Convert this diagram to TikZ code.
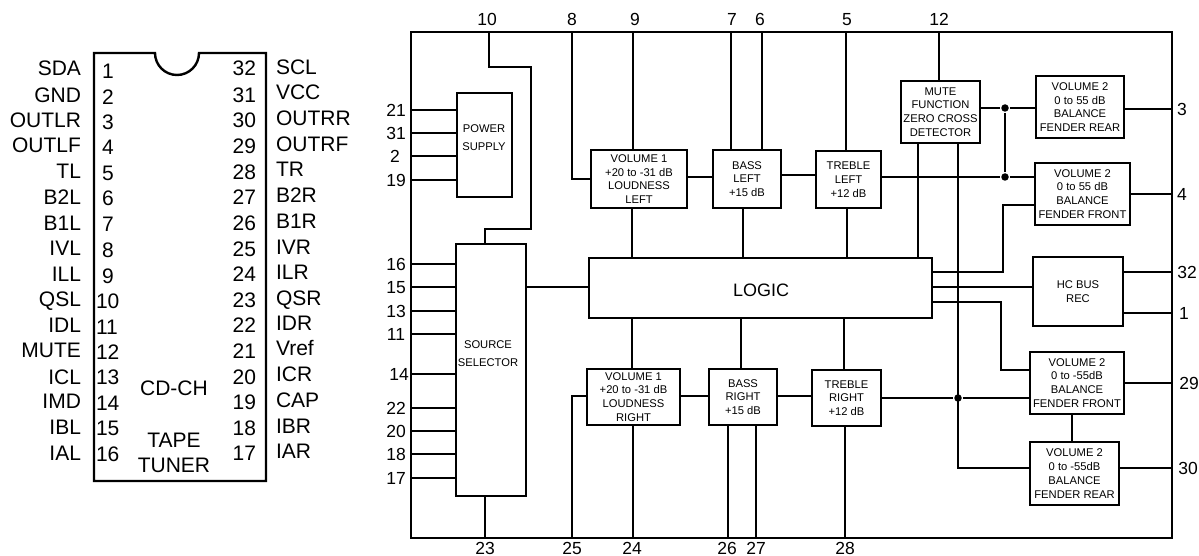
\documentclass[tikz,border=0pt]{standalone}
\usepackage{fontspec}
\setmainfont{Liberation Sans}

\begin{document}
\begin{tikzpicture}[x=1pt, y=-1pt, line width=2.1pt,
  lname/.style={anchor=east,inner sep=0pt,text height=15pt,text depth=0pt,font=\fontsize{21}{25}\selectfont},
  rname/.style={anchor=west,inner sep=0pt,text height=15pt,text depth=0pt,font=\fontsize{21}{25}\selectfont},
  lnum/.style={anchor=west,inner sep=0pt,text height=15pt,text depth=0pt,font=\fontsize{21}{25}\selectfont},
  rnum/.style={anchor=east,inner sep=0pt,text height=15pt,text depth=0pt,font=\fontsize{21}{25}\selectfont},
  chiptext/.style={inner sep=0pt,text height=15pt,text depth=0pt,font=\fontsize{21}{25}\selectfont},
  pinnum/.style={inner sep=0pt,text height=12.5pt,text depth=0pt,font=\fontsize{17.5}{20}\selectfont},
  blockbox/.style={draw,rectangle,inner sep=0pt,outer sep=0pt,align=center,font=\fontsize{11.2}{13.8}\selectfont},
  looseblock/.style={inner sep=0pt,align=center,font=\fontsize{11.2}{18}\selectfont},
  junction/.style={circle,fill,inner sep=0pt,minimum size=7.5pt}]
  \useasboundingbox (0,0) rectangle (1199,556);

  % chip
  \draw[line width=2.4pt] (94,53) -- (155,53) arc[start angle=180, end angle=0, radius=22] -- (266,53) -- (266,481) -- (94,481) -- cycle;
  \node (cdch) [chiptext] at (174,388) {CD-CH};
  \node (tape) [chiptext] at (174,440) {TAPE};
  \node (tuner) [chiptext] at (174,465) {TUNER};

  \node (sda) [lname] at (82,68) {SDA};
  \node (gnd) [lname] at (82,95) {GND};
  \node (outlr) [lname] at (82,120) {OUTLR};
  \node (outlf) [lname] at (82,145) {OUTLF};
  \node (tl) [lname] at (82,171) {TL};
  \node (btwol) [lname] at (82,197) {B2L};
  \node (bonel) [lname] at (82,223) {B1L};
  \node (ivl) [lname] at (82,248) {IVL};
  \node (ill) [lname] at (82,274) {ILL};
  \node (qsl) [lname] at (82,299) {QSL};
  \node (idl) [lname] at (82,325) {IDL};
  \node (mute) [lname] at (82,350) {MUTE};
  \node (icl) [lname] at (82,377) {ICL};
  \node (imd) [lname] at (82,401) {IMD};
  \node (ibl) [lname] at (82,427) {IBL};
  \node (ial) [lname] at (82,453) {IAL};

  \node (na) [lnum] at (101,71) {1};
  \node (nb) [lnum] at (101,97) {2};
  \node (nc) [lnum] at (101,122) {3};
  \node (nd) [lnum] at (101,147) {4};
  \node (ne) [lnum] at (101,173) {5};
  \node (nf) [lnum] at (101,198) {6};
  \node (ng) [lnum] at (101,224) {7};
  \node (nh) [lnum] at (101,250) {8};
  \node (ni) [lnum] at (101,276) {9};
  \node (nj) [lnum] at (95,301) {10};
  \node (nk) [lnum] at (95,327) {11};
  \node (nl) [lnum] at (95,352) {12};
  \node (nm) [lnum] at (95,377) {13};
  \node (nn) [lnum] at (95,403) {14};
  \node (no) [lnum] at (95,428) {15};
  \node (np) [lnum] at (95,454) {16};

  \node (nq) [rnum] at (257,68) {32};
  \node (nr) [rnum] at (257,95) {31};
  \node (ns) [rnum] at (257,120) {30};
  \node (nt) [rnum] at (257,146) {29};
  \node (nu) [rnum] at (257,172) {28};
  \node (nv) [rnum] at (257,197) {27};
  \node (nw) [rnum] at (257,223) {26};
  \node (nx) [rnum] at (257,249) {25};
  \node (ny) [rnum] at (257,274) {24};
  \node (nz) [rnum] at (257,300) {23};
  \node (naa) [rnum] at (257,325) {22};
  \node (nab) [rnum] at (257,351) {21};
  \node (nac) [rnum] at (257,377) {20};
  \node (nad) [rnum] at (257,402) {19};
  \node (nae) [rnum] at (257,428) {18};
  \node (naf) [rnum] at (257,453) {17};

  \node (scl) [rname] at (275,67) {SCL};
  \node (vcc) [rname] at (275,92) {VCC};
  \node (outrr) [rname] at (275,118) {OUTRR};
  \node (outrf) [rname] at (275,144) {OUTRF};
  \node (tr) [rname] at (275,169) {TR};
  \node (btwor) [rname] at (275,195) {B2R};
  \node (boner) [rname] at (275,221) {B1R};
  \node (ivr) [rname] at (275,247) {IVR};
  \node (ilr) [rname] at (275,272) {ILR};
  \node (qsr) [rname] at (275,298) {QSR};
  \node (idr) [rname] at (275,323) {IDR};
  \node (vref) [rname] at (275,348) {Vref};
  \node (icr) [rname] at (275,374) {ICR};
  \node (cap) [rname] at (275,400) {CAP};
  \node (ibr) [rname] at (275,426) {IBR};
  \node (iar) [rname] at (275,451) {IAR};

  % block diagram
  \node (frame) [blockbox, minimum width=761pt, minimum height=506pt] at (791.5,285) {};
  \node (power) [blockbox, minimum width=55pt, minimum height=104pt] at (484.5,145) {};
  \node (powertext) [looseblock] at (484,138) {POWER\\SUPPLY};
  \node (source) [blockbox, minimum width=70pt, minimum height=252pt] at (491,370) {};
  \node (sourcetext) [looseblock] at (488,354) {SOURCE\\SELECTOR};
  \node (logic) [blockbox, minimum width=343pt, minimum height=60pt] at (760.5,288) {};
  \node (logictext) [inner sep=0pt, font=\fontsize{18}{20}\selectfont] at (761,290) {LOGIC};
  \node (volal) [blockbox, minimum width=96pt, minimum height=58pt] at (639,179) {VOLUME 1\\+20 to -31 dB\\LOUDNESS\\LEFT};
  \node (bassl) [blockbox, minimum width=68pt, minimum height=58pt] at (747,179) {BASS\\LEFT\\+15 dB};
  \node (treblel) [blockbox, minimum width=65pt, minimum height=57pt] at (848.5,179.5) {TREBLE\\LEFT\\+12 dB};
  \node (mutefn) [blockbox, minimum width=79pt, minimum height=62pt] at (940.5,112) {MUTE\\FUNCTION\\ZERO CROSS\\DETECTOR};
  \node (voltr) [blockbox, minimum width=88pt, minimum height=62pt] at (1080,107) {VOLUME 2\\0 to 55 dB\\BALANCE\\FENDER REAR};
  \node (voltf) [blockbox, minimum width=95pt, minimum height=62pt] at (1082.5,194) {VOLUME 2\\0 to 55 dB\\BALANCE\\FENDER FRONT};
  \node (hcbus) [blockbox, minimum width=90pt, minimum height=69pt] at (1078,291.5) {HC BUS\\REC};
  \node (volar) [blockbox, minimum width=93pt, minimum height=56pt] at (633.5,397) {VOLUME 1\\+20 to -31 dB\\LOUDNESS\\RIGHT};
  \node (bassr) [blockbox, minimum width=68pt, minimum height=56pt] at (743,397) {BASS\\RIGHT\\+15 dB};
  \node (trebler) [blockbox, minimum width=69pt, minimum height=56pt] at (846.5,398) {TREBLE\\RIGHT\\+12 dB};
  \node (volff) [blockbox, minimum width=94pt, minimum height=62pt] at (1077,383) {VOLUME 2\\0 to -55dB\\BALANCE\\FENDER FRONT};
  \node (volfr) [blockbox, minimum width=89pt, minimum height=63pt] at (1074.5,473.5) {VOLUME 2\\0 to -55dB\\BALANCE\\FENDER REAR};

  % pin numbers round the frame
  \node (pten) [pinnum] at (487,19) {10};
  \node (pei) [pinnum] at (572,19) {8};
  \node (pni) [pinnum] at (635,19) {9};
  \node (pse) [pinnum] at (732,19) {7};
  \node (psi) [pinnum] at (760,19) {6};
  \node (pfi) [pinnum] at (847,19) {5};
  \node (ptw) [pinnum] at (939,19) {12};
  \node (ptyo) [pinnum] at (396,110) {21};
  \node (ptho) [pinnum] at (396,133) {31};
  \node (pto) [pinnum] at (395,156) {2};
  \node (poni) [pinnum] at (396,180) {19};
  \node (ponsi) [pinnum] at (396,264) {16};
  \node (ponfi) [pinnum] at (396,287) {15};
  \node (ponth) [pinnum] at (396,311) {13};
  \node (ponon) [pinnum] at (396,334) {11};
  \node (ponfo) [pinnum] at (399,374) {14};
  \node (ptyt) [pinnum] at (396,408) {22};
  \node (ptyz) [pinnum] at (396,431) {20};
  \node (pone) [pinnum] at (396,454) {18};
  \node (ponse) [pinnum] at (396,478) {17};
  \node (pth) [pinnum] at (1182,109) {3};
  \node (pfo) [pinnum] at (1182,194) {4};
  \node (pttw) [pinnum] at (1187,272) {32};
  \node (pon) [pinnum] at (1184,313) {1};
  \node (ptni) [pinnum] at (1189,383) {29};
  \node (pthz) [pinnum] at (1188,468) {30};
  \node (ptth) [pinnum] at (485,548.5) {23};
  \node (ptfi) [pinnum] at (572,548.5) {25};
  \node (ptfo) [pinnum] at (632,548.5) {24};
  \node (ptsi) [pinnum] at (727,548.5) {26};
  \node (ptse) [pinnum] at (756,548.5) {27};
  \node (ptei) [pinnum] at (845,548.5) {28};

  \coordinate (tten) at (489,32);
  \coordinate (tei) at (572,32);
  \coordinate (tni) at (633,32);
  \coordinate (tse) at (731,32);
  \coordinate (tsi) at (762,32);
  \coordinate (tfi) at (846,32);
  \coordinate (ttw) at (939,32);
  \coordinate (bth) at (485,538);
  \coordinate (bfi) at (572,538);
  \coordinate (bfo) at (633,538);
  \coordinate (bsi) at (728,538);
  \coordinate (bse) at (756,538);
  \coordinate (bei) at (845,538);
  \coordinate (bendb) at (531,67);
  \coordinate (bendc) at (531,229);
  \coordinate (bendd) at (485,229);
  \coordinate (lva) at (632,208);
  \coordinate (lvb) at (743,208);
  \coordinate (lvc) at (847,208);
  \coordinate (lvd) at (918,143);
  \coordinate (lve) at (958,143);
  \coordinate (lra) at (632,369);
  \coordinate (lrb) at (741,369);
  \coordinate (lrc) at (844,370);
  \coordinate (lga) at (932,272);
  \coordinate (lgb) at (932,287);
  \coordinate (lgc) at (932,302);
  \coordinate (lgd) at (1003,205);
  \coordinate (lge) at (1001,370);
  \coordinate (hbo) at (1123,272);
  \coordinate (hbi) at (1123,313);
  \coordinate (vfi) at (1072,414);
  \coordinate (lbt) at (781,175);
  \coordinate (rbt) at (777,396);

  \node (junca) [junction] at (1005,108) {};
  \node (juncb) [junction] at (1005,177) {};
  \node (juncc) [junction] at (958,398) {};

  % top pins
  \draw (tten) |- (bendb) -- (bendc) -- (bendd) -- (bendd |- source.north);
  \draw (tei) |- (volal.west);
  \draw (tni) -- (tni |- volal.north);
  \draw (tse) -- (tse |- bassl.north);
  \draw (tsi) -- (tsi |- bassl.north);
  \draw (tfi) -- (tfi |- treblel.north);
  \draw (ttw) -- (ttw |- mutefn.north);
  % left pins
  \draw (frame.west |- ptyo) -- (power.west |- ptyo);
  \draw (frame.west |- ptho) -- (power.west |- ptho);
  \draw (frame.west |- pto) -- (power.west |- pto);
  \draw (frame.west |- poni) -- (power.west |- poni);
  \draw (frame.west |- ponsi) -- (source.west |- ponsi);
  \draw (frame.west |- ponfi) -- (source.west |- ponfi);
  \draw (frame.west |- ponth) -- (source.west |- ponth);
  \draw (frame.west |- ponon) -- (source.west |- ponon);
  \draw (frame.west |- ponfo) -- (source.west |- ponfo);
  \draw (frame.west |- ptyt) -- (source.west |- ptyt);
  \draw (frame.west |- ptyz) -- (source.west |- ptyz);
  \draw (frame.west |- pone) -- (source.west |- pone);
  \draw (frame.west |- ponse) -- (source.west |- ponse);
  % right pins
  \draw (voltr.east |- pth) -- (frame.east |- pth);
  \draw (voltf.east |- pfo) -- (frame.east |- pfo);
  \draw (hbo) -- (frame.east |- hbo);
  \draw (hbi) -- (frame.east |- hbi);
  \draw (volff.east |- ptni) -- (frame.east |- ptni);
  \draw (volfr.east |- pthz) -- (frame.east |- pthz);
  % bottom pins
  \draw (bth) -- (bth |- source.south);
  \draw (bfi) |- (volar.west |- rbt);
  \draw (bfo) -- (bfo |- volar.south);
  \draw (bsi) -- (bsi |- bassr.south);
  \draw (bse) -- (bse |- bassr.south);
  \draw (bei) -- (bei |- trebler.south);
  % between the blocks
  \draw (source.east |- ponfi) -- (logic.west |- ponfi);
  \draw (volal.east |- juncb) -- (bassl.west |- juncb);
  \draw (lbt) -- (lbt -| treblel.west);
  \draw (treblel.east |- juncb) -- (juncb) -- (juncb -| voltf.west);
  \draw (mutefn.east |- junca) -- (junca) -- (junca -| voltr.west);
  \draw (junca) -- (juncb);
  \draw (lva) -- (lva |- logic.north);
  \draw (lvb) -- (lvb |- logic.north);
  \draw (lvc) -- (lvc |- logic.north);
  \draw (lvd) -- (lvd |- logic.north);
  \draw (lve) -- (lve |- pthz) -- (pthz -| volfr.west);
  \draw (lga) -| (lgd) -- (lgd -| voltf.west);
  \draw (lgb) -- (lgb -| hcbus.west);
  \draw (lgc) -| (lge) -- (lge -| volff.west);
  \draw (lra) -- (lra |- logic.south);
  \draw (lrb) -- (lrb |- logic.south);
  \draw (lrc) -- (lrc |- logic.south);
  \draw (volar.east |- rbt) -- (bassr.west |- rbt);
  \draw (rbt) -- (rbt -| trebler.west);
  \draw (trebler.east) -- (juncc) -- (juncc -| volff.west);
  \draw (vfi) -- (vfi |- volfr.north);
\end{tikzpicture}
\end{document}
